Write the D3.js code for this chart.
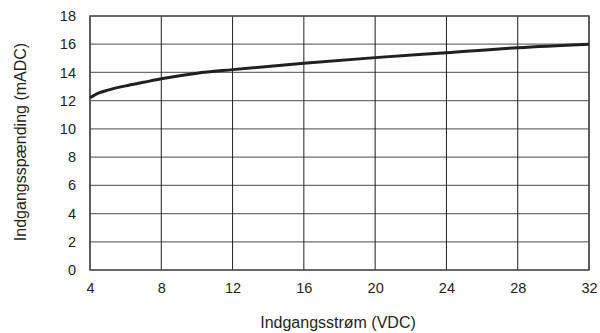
<!DOCTYPE html>
<html>
<head>
<meta charset="utf-8">
<script src="https://cdn.jsdelivr.net/npm/d3@7"></script>
<style>
  body { margin: 0; background: #fff; }
  text { font-family: "Liberation Sans", Arial, sans-serif; fill: #231f20; }
</style>
</head>
<body>
<svg width="600" height="333"></svg>
<script>
// values
const xValues = [4, 4.5, 5, 6, 7, 8, 10, 12, 16, 20, 24, 28, 32];
const yValues = [12.2, 12.55, 12.75, 13.05, 13.3, 13.55, 13.95, 14.2, 14.65, 15.05, 15.4, 15.75, 16.0];
const xTicks = [4, 8, 12, 16, 20, 24, 28, 32];
const yTicks = [0, 2, 4, 6, 8, 10, 12, 14, 16, 18];

const svg = d3.select('svg');
const plotL = 90, plotR = 589, plotT = 16, plotB = 270;

const x = d3.scaleLinear().domain([4, 32]).range([plotL, plotR]);
const y = d3.scaleLinear().domain([0, 18]).range([plotB, plotT]);

// horizontal grid
svg.append('g')
  .selectAll('line')
  .data(yTicks)
  .enter()
  .append('line')
  .attr('x1', plotL).attr('x2', plotR)
  .attr('y1', d => y(d)).attr('y2', d => y(d))
  .style('stroke', '#6d6e71')
  .style('stroke-width', 1.2);

// vertical grid
svg.append('g')
  .selectAll('line')
  .data(xTicks)
  .enter()
  .append('line')
  .attr('x1', d => x(d)).attr('x2', d => x(d))
  .attr('y1', plotT).attr('y2', plotB)
  .style('stroke', '#231f20')
  .style('stroke-width', 1);

// frame
svg.append('rect')
  .attr('x', plotL).attr('y', plotT)
  .attr('width', plotR - plotL).attr('height', plotB - plotT)
  .style('fill', 'none')
  .style('stroke', '#4d4d4f')
  .style('stroke-width', 1.5);

// axes (labels only)
const yAxis = svg.append('g')
  .attr('transform', `translate(${plotL},0)`)
  .call(d3.axisLeft(y).tickValues(yTicks).tickSize(0).tickPadding(14));
const xAxis = svg.append('g')
  .attr('transform', `translate(0,${plotB})`)
  .call(d3.axisBottom(x).tickValues(xTicks).tickSize(0).tickPadding(13));
[xAxis, yAxis].forEach(a => {
  a.select('.domain').remove();
  a.selectAll('text')
    .style('font-size', '14.5px')
    .style('font-family', '"Liberation Sans", Arial, sans-serif')
    .style('fill', '#231f20');
});

// curve
const line = d3.line()
  .x((d, i) => x(xValues[i]))
  .y(d => y(d))
  .curve(d3.curveMonotoneX);

svg.append('path')
  .datum(yValues)
  .attr('d', line)
  .style('fill', 'none')
  .style('stroke', '#231f20')
  .style('stroke-width', 3);

// titles
svg.append('text')
  .attr('x', 338)
  .attr('y', 328)
  .attr('text-anchor', 'middle')
  .style('font-size', '16px')
  .text('Indgangsstrøm (VDC)');

svg.append('text')
  .attr('transform', 'translate(26,142) rotate(-90)')
  .attr('text-anchor', 'middle')
  .style('font-size', '16px')
  .text('Indgangsspænding (mADC)');
</script>
</body>
</html>
